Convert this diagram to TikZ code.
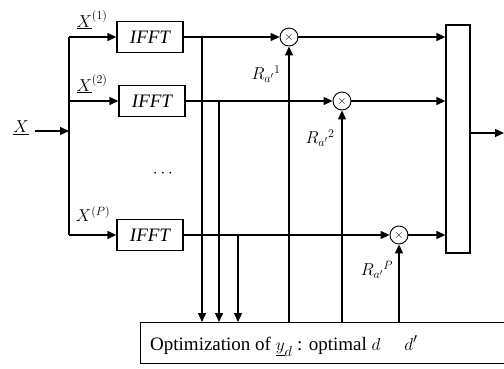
\documentclass[tikz,border=0pt]{standalone}
\usepackage{fontspec}
\setmainfont{Liberation Serif}
\usetikzlibrary{arrows.meta}
\begin{document}
\begin{tikzpicture}[x=1pt,y=-1pt,
  every node/.style={inner sep=0pt},
  ln/.style={line width=1.3pt},
  arr/.style={ln,-{Triangle[length=9pt,width=8pt]}},
  fftbox/.style={draw,line width=1.3pt,minimum width=66pt,minimum height=31pt,font=\fontsize{19}{21}\selectfont\itshape},
  mult/.style={draw,circle,line width=0.9pt,minimum size=18pt,font=\fontsize{12}{12}\selectfont},
  lbl/.style={font=\fontsize{18}{20}\selectfont}]
\useasboundingbox (0,0) rectangle (504,368);
% input
\node[lbl] (X) at (21,128) {$\underline{X}$};
\coordinate (bt) at (69,37);
\coordinate (bm) at (69,131);
\coordinate (bb) at (69,235);
\draw[arr] (X.east) ++(6,3) coordinate (xs) -- (bm);
\draw[ln] (bt) -- (bb);
% IFFT boxes
\node[fftbox] (f1) at (150,37) {IFFT};
\node[fftbox] (f2) at (152,101) {IFFT};
\node[fftbox] (f3) at (150,235) {IFFT};
\coordinate (b2) at (69,101);
\draw[arr] (bt) -- (f1.west);
\draw[arr] (b2) -- (f2.west);
\draw[arr] (bb) -- (f3.west);
\node[lbl] (x1) at (92,20) {$\underline{X}^{(1)}$};
\node[lbl] (x2) at (92,84) {$\underline{X}^{(2)}$};
\node[lbl] (xp) at (93,214) {$X^{(P)}$};
\node[lbl] (dots) at (163,174) {$\cdots$};
% multipliers
\node[mult] (m1) at (289,37) {$\times$};
\node[mult] (m2) at (342,101) {$\times$};
\node[mult] (m3) at (399,235) {$\times$};
\draw[arr] (f1.east) -- (m1);
\draw[arr] (f2.east) -- (m2);
\draw[arr] (f3.east) -- (m3);
% combiner
\node[draw,line width=1.3pt,minimum width=24pt,minimum height=228pt] (c) at (458,139) {};
\draw[arr] (m1) -- (m1 -| c.west);
\draw[arr] (m2) -- (m2 -| c.west);
\draw[arr] (m3) -- (m3 -| c.west);
\coordinate (out) at (504,133);
\draw[arr] (c.east |- out) -- (out);
% optimisation box
\node[draw,line width=1.3pt,minimum width=380pt,minimum height=41pt,anchor=north west] (opt) at (140,322) {};
\node[anchor=base west,font=\fontsize{19}{21}\selectfont] (ot) at (150,350) {Optimization of $\underline{y}_d$ : optimal $d$\hspace{24pt}$d'$};
% taps to the optimiser
\coordinate (t1) at (202,37);
\coordinate (t2) at (219,101);
\coordinate (t3) at (238,235);
\draw[arr] (t1) -- (t1 |- opt.north);
\draw[arr] (t2) -- (t2 |- opt.north);
\draw[arr] (t3) -- (t3 |- opt.north);
% rotations back to multipliers
\draw[arr] (m1 |- opt.north) -- (m1.south);
\draw[arr] (m2 |- opt.north) -- (m2.south);
\draw[arr] (m3 |- opt.north) -- (m3.south);
\node[lbl] (r1) at (266,74) {$R_{a'}{}^{1}$};
\node[lbl] (r2) at (320,138) {$R_{a'}{}^{2}$};
\node[lbl] (r3) at (377,270) {$R_{a'}{}^{P}$};
\end{tikzpicture}
\end{document}
